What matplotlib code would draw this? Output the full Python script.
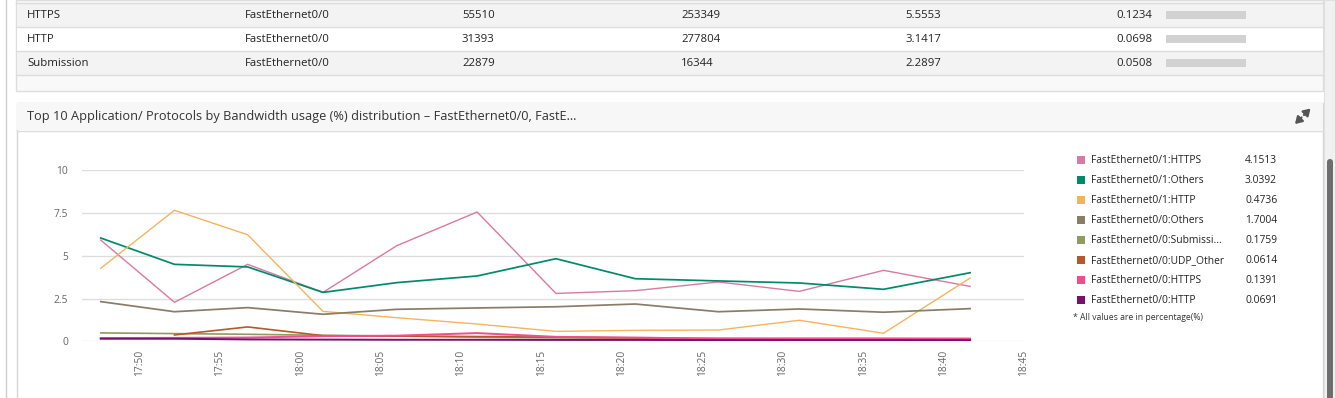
import datetime as dt

import matplotlib
matplotlib.use("Agg")
import matplotlib.dates as mdates
import matplotlib.pyplot as plt
from matplotlib.patches import FancyArrowPatch, FancyBboxPatch, Rectangle

W, H = 1335, 398
FONT = "Open Sans"

# table above the chart (last rows only visible)
apps = ["HTTPS", "HTTP", "Submission"]
ifaces = ["FastEthernet0/0", "FastEthernet0/0", "FastEthernet0/0"]
col_a = ["55510", "31393", "22879"]
col_b = ["253349", "277804", "16344"]
col_c = ["5.5553", "3.1417", "2.2897"]
col_d = ["0.1234", "0.0698", "0.0508"]

# chart series
times = ["17:47:36", "17:52:11", "17:56:44", "18:01:25", "18:06:00", "18:11:00",
         "18:15:54", "18:20:50", "18:26:00", "18:31:02", "18:36:16", "18:41:39"]
series_names = ["FastEthernet0/1:HTTPS", "FastEthernet0/1:Others", "FastEthernet0/1:HTTP",
                "FastEthernet0/0:Others", "FastEthernet0/0:Submissi...",
                "FastEthernet0/0:UDP_Other", "FastEthernet0/0:HTTPS", "FastEthernet0/0:HTTP"]
legend_values = ["4.1513", "3.0392", "0.4736", "1.7004", "0.1759", "0.0614", "0.1391", "0.0691"]
https_1 = [5.92, 2.28, 4.50, 2.86, 5.59, 7.56, 2.80, 2.96, 3.47, 2.92, 4.15, 3.21]
others_1 = [6.04, 4.50, 4.35, 2.86, 3.43, 3.82, 4.83, 3.66, 3.53, 3.41, 3.04, 4.01]
http_1 = [4.27, 7.66, 6.23, 1.75, 1.38, 1.01, 0.58, 0.64, 0.66, 1.23, 0.47, 3.70]
others_0 = [2.32, 1.73, 1.97, 1.58, 1.87, 1.95, 2.02, 2.18, 1.73, 1.89, 1.70, 1.91]
submission_0 = [0.49, 0.45, 0.41, 0.35, 0.31, 0.24, 0.20, 0.19, 0.18, 0.18, 0.18, 0.17]
udp_0 = [None, 0.37, 0.84, 0.33, 0.30, 0.28, 0.24, 0.20, 0.12, 0.08, 0.06, 0.06]
https_0 = [0.19, 0.20, 0.22, 0.30, 0.33, 0.48, 0.26, 0.22, 0.15, 0.14, 0.14, 0.14]
http_0 = [0.15, 0.15, 0.11, 0.10, 0.09, 0.09, 0.08, 0.08, 0.07, 0.07, 0.07, 0.07]
series = [https_1, others_1, http_1, others_0, submission_0, udp_0, https_0, http_0]
colors = ["#d87a9f", "#008a6c", "#f4b45e", "#8b7c68", "#8f9a5e", "#b5582e", "#f34b8b", "#7a106e"]
widths = [1.0, 1.25, 1.0, 1.25, 1.2, 1.2, 1.4, 1.4]
y_ticks = [0, 2.5, 5, 7.5, 10]

fig = plt.figure(figsize=(W / 100, H / 100), dpi=100)
bg = fig.add_axes([0, 0, 1, 1])
bg.set_xlim(0, W)
bg.set_ylim(H, 0)
bg.axis("off")

# page frame
bg.add_patch(Rectangle((0, 0), W, H, color="white", zorder=0))
bg.plot([5.5, 5.5], [0, H], color="#cfcfcf", lw=1)

# table
bg.add_patch(Rectangle((16, 0), 1307, 91, facecolor="#f9f9f9", edgecolor="#dddddd", lw=1))
row_tops = [2.5, 26.5, 50.5]
for i, top in enumerate(row_tops):
    fc = "#f3f3f3" if i % 2 == 0 else "white"
    bg.add_patch(Rectangle((16.5, top), 1306, 24, facecolor=fc, edgecolor="none"))
for yl in [2.5, 26.5, 50.5, 74.5]:
    bg.plot([16, 1323], [yl, yl], color="#dcdcdc", lw=1)
col_x = [27, 245, 462, 681, 905, 1116]
for i, top in enumerate(row_tops):
    yc = top + 12.5
    row = [apps[i], ifaces[i], col_a[i], col_b[i], col_c[i], col_d[i]]
    for x, txt in zip(col_x, row):
        bg.text(x, yc, txt, fontsize=8.2, color="#222222", va="center", family=FONT)
    bg.add_patch(Rectangle((1166, yc - 4), 80, 8, facecolor="#d2d2d2", edgecolor="none"))

# chart panel
bg.add_patch(Rectangle((16.5, 102.5), 1306.5, 300, facecolor="white", edgecolor="#d6d6d6", lw=1))
bg.add_patch(Rectangle((17, 103), 1305.5, 27, facecolor="#f7f7f7", edgecolor="none"))
bg.plot([17, 1323], [130.5, 130.5], color="#dddddd", lw=1)
bg.text(27, 116.5, "Top 10 Application/ Protocols by Bandwidth usage (%) distribution \u2013 "
        "FastEthernet0/0, FastE...", fontsize=9.15, color="#333333", va="center", family=FONT)
# expand icon: two outward diagonal arrows
for start, end in [((1304, 115), (1310.5, 108.5)), ((1301.5, 117.5), (1295, 124))]:
    bg.add_patch(FancyArrowPatch(start, end, arrowstyle="-|>,head_length=4,head_width=2.5",
                                 color="#555555", lw=1.6, mutation_scale=1,
                                 shrinkA=0, shrinkB=0))

# scrollbar
bg.add_patch(Rectangle((1324, 0), 11, H, facecolor="#f1f1f1", edgecolor="#e0e0e0", lw=0.8))
bg.add_patch(FancyBboxPatch((1327, 159), 6, 250, boxstyle="round,pad=0,rounding_size=3",
                            facecolor="#6d6d6d", edgecolor="none"))

# legend
for i, (name, val, c) in enumerate(zip(series_names, legend_values, colors)):
    yc = 160 + 20 * i
    bg.add_patch(Rectangle((1077, yc - 4), 8, 8, facecolor=c, edgecolor="none"))
    bg.text(1091, yc + 0.5, name, fontsize=7.4, color="#222222", va="center", family=FONT)
    bg.text(1245, yc + 0.5, val, fontsize=7.4, color="#222222", va="center", family=FONT)
bg.text(1073, 318, "* All values are in percentage(%)", fontsize=6.2, color="#333333",
        va="center", family=FONT)

# line chart
x0, x1, ytop, ybot = 82, 1024, 170.3, 341.3
ax = fig.add_axes([x0 / W, 1 - ybot / H, (x1 - x0) / W, (ybot - ytop) / H])
ax.patch.set_alpha(0)
t = [dt.datetime.strptime("2020-01-01 " + s, "%Y-%m-%d %H:%M:%S") for s in times]
for vals, c, lw in zip(series, colors, widths):
    pts = [(ti, v) for ti, v in zip(t, vals) if v is not None]
    ax.plot([p[0] for p in pts], [p[1] for p in pts], color=c, lw=lw, solid_joinstyle="miter")

ax.set_ylim(0, 10)
ax.set_yticks(y_ticks)
ax.set_yticklabels(["0", "2.5", "5", "7.5", "10"])
ax.set_xlim(dt.datetime(2020, 1, 1, 17, 46, 26), dt.datetime(2020, 1, 1, 18, 45, 0))
ax.xaxis.set_major_locator(mdates.MinuteLocator(byminute=range(0, 60, 5)))
ax.xaxis.set_major_formatter(mdates.DateFormatter("%H:%M"))
ax.grid(axis="y", color="#dddddd", lw=1)
ax.set_axisbelow(True)
for s in ax.spines.values():
    s.set_visible(False)
ax.tick_params(axis="both", length=0, colors="#666666", labelsize=7.4)
ax.tick_params(axis="y", pad=10)
ax.tick_params(axis="x", pad=6)
for lbl in ax.get_xticklabels():
    lbl.set_rotation(90)
    lbl.set_family(FONT)
for lbl in ax.get_yticklabels():
    lbl.set_family(FONT)

fig.savefig("out.png", dpi=100)
